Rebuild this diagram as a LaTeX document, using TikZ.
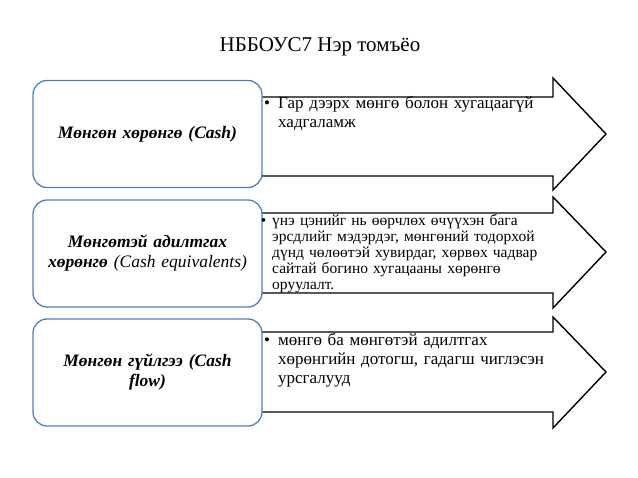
\documentclass[tikz,border=0pt]{standalone}
\usepackage{fontspec}
\setmainfont{Liberation Serif}
\begin{document}
\begin{tikzpicture}[x=1pt,y=-1pt,
 arr/.style={draw=black,line width=1.4pt,fill=white},
 cbox/.style={draw={rgb,255:red,79;green,129;blue,189},line width=1.3pt,fill=white,rounded corners=14pt,minimum width=229pt,minimum height=107pt,align=center,text width=222pt,font=\fontsize{17.5}{20}\selectfont\bfseries\itshape},
 atext/.style={anchor=north west,text width=300pt,align=left,inner sep=0pt}]
\useasboundingbox (0,0) rectangle (638,478);
\node (title) at (320,47) {\fontsize{21}{24}\selectfont НББОУС7 Нэр томъёо};
\foreach \t/\ht/\b/\hb/\tip in {97/78/176/190/134, 213/197/293/308/252, 332/317/412/428/372}{
 \draw[arr] (240,\t) -- (553,\t) -- (553,\ht) -- (606,\tip) -- (553,\hb) -- (553,\b) -- (240,\b) -- cycle;
}
\node[cbox] (b1) at (147.5,134) {Мөнгөн хөрөнгө (Cash)};
\node[cbox] (b2) at (147.5,253.5) {Мөнгөтэй адилтгах\\ хөрөнгө \normalfont\itshape(Cash equivalents)};
\node[cbox] (b3) at (147.5,372.5) {Мөнгөн гүйлгээ (Cash\\ flow)};
\node[atext,font=\fontsize{17}{19}\selectfont] (t1) at (278,96) {\llap{•\hspace{8pt}}Гар дээрх мөнгө болон хугацаагүй\\ хадгаламж};
\node[atext,font=\fontsize{15.5}{16}\selectfont] (t2) at (272,214) {\llap{•\hspace{6pt}}үнэ цэнийг нь өөрчлөх өчүүхэн бага\\ эрсдлийг мэдэрдэг, мөнгөний тодорхой\\ дүнд чөлөөтэй хувирдаг, хөрвөх чадвар\\ сайтай богино хугацааны хөрөнгө\\ оруулалт.};
\node[atext,font=\fontsize{17}{19}\selectfont] (t3) at (278,333) {\llap{•\hspace{8pt}}мөнгө ба мөнгөтэй адилтгах\\ хөрөнгийн дотогш, гадагш чиглэсэн\\ урсгалууд};
\end{tikzpicture}
\end{document}
